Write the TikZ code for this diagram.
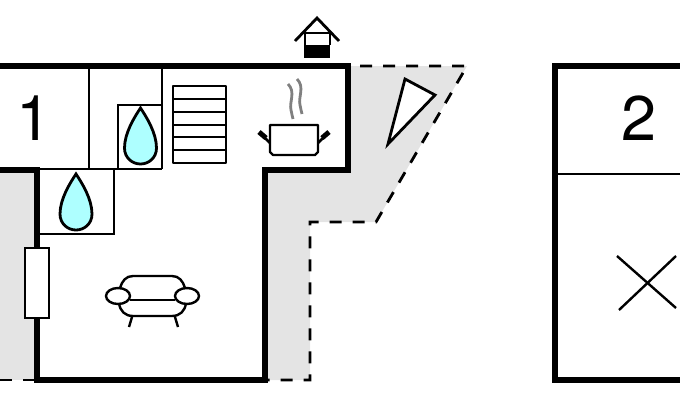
\documentclass[tikz,border=0pt]{standalone}
\usepackage{fontspec}
\setmainfont{TeX Gyre Heros}
\definecolor{terrace}{HTML}{E4E4E4}
\definecolor{water}{HTML}{AEFFFF}
\newcommand{\waterdrop}[2]{%
  \draw[thinwall,fill=water] (#1,#2) .. controls (#1-6,#2+9) and (#1-16,#2+25) .. (#1-16,#2+40)
    .. controls (#1-16,#2+50) and (#1-8,#2+56) .. (#1,#2+56)
    .. controls (#1+8,#2+56) and (#1+16,#2+50) .. (#1+16,#2+40)
    .. controls (#1+16,#2+25) and (#1+6,#2+9) .. (#1,#2) -- cycle;
}
\begin{document}
\begin{tikzpicture}[
    x=1pt,y=-1pt,
    wall/.style={line width=6.8pt,miter limit=10},
    thinwall/.style={line width=2.8pt},
    symbol/.style={line width=2.4pt,line join=round},
    limit/.style={line width=2.8pt,dash pattern=on 12pt off 11pt},
    number/.style={font=\fontsize{63}{63}\selectfont,inner sep=0pt}
  ]
  \useasboundingbox (0,0) rectangle (680,400);
  % Terraces
  \fill[terrace] (347,66) -- (467,66) -- (376,222) -- (310,222) -- (310,380) -- (265,380) -- (265,170) -- (347,170) -- cycle;
  \fill[terrace] (0,170) rectangle (37,380);
  \draw[limit] (360,66) -- (467,66) -- (376,222) -- (310,222) -- (310,380) -- (268,380);
  \draw[limit] (0,380) -- (37,380);

  % Inner walls
  \draw[thinwall] (89,66) -- (89,169);
  \draw[thinwall] (38,169) -- (162,169);
  \draw[thinwall] (162,66) -- (162,169);
  \draw[thinwall] (118,169) -- (118,105) -- (162,105);
  \draw[thinwall] (38,234) -- (114,234) -- (114,169);

  % Outer walls
  \draw[wall] (0,66) -- (348,66) -- (348,170) -- (265,170) -- (265,380) -- (37,380) -- (37,170) -- (0,170);
  \draw[wall] (680,66) -- (555,66) -- (555,380) -- (680,380);
  \draw[thinwall] (555,174) -- (680,174);

  % Room numbers
  \node[number] (room1) at (34,118) {1};
  \node[number] (room2) at (639,118) {2};

  % Drops
  \waterdrop{140.5}{108}
  \waterdrop{76}{174}

  % Stairs
  \draw[symbol] (173,86) rectangle (226,163);
  \foreach \y in {99,112,125,137,150} {
    \draw[symbol] (173,\y) -- (226,\y);
  }

  % Chimney
  \fill (304,45) rectangle (330,58);
  \draw[symbol] (305,45) -- (305,33) -- (330,33) -- (330,45);
  \draw[line width=2.8pt] (295,41) -- (317,18) -- (339,41);

  % Pot
  \draw[gray,line width=2.8pt] (288,84) .. controls (296,92) and (289,102) .. (291,110) .. controls (292,114) and (292,116) .. (293,119);
  \draw[gray,line width=2.8pt] (297,79) .. controls (305,87) and (298,97) .. (300,105) .. controls (301,109) and (301,111) .. (302,114);
  \draw[symbol] (270,125) -- (318,125) -- (318,152) -- (315,155) -- (273,155) -- (270,152) -- cycle;
  \draw[line width=2.6pt] (270,143) -- (262,135);
  \draw[line width=2.6pt] (318,143) -- (326,135);
  \draw[line width=5pt] (259,132) -- (266,138);
  \draw[line width=5pt] (329,132) -- (322,138);

  % Door mat
  \draw[line width=2.8pt,fill=white] (405,79) -- (435,95) -- (388,144) -- cycle;

  % Window
  \draw[thinwall,fill=white] (25,248) rectangle (49,318);

  % Sofa
  \draw[symbol] (120,288) .. controls (122,281) and (126,276) .. (133,276) -- (172,276) .. controls (179,276) and (183,281) .. (185,288);
  \draw[symbol] (119,303) .. controls (120,311) and (125,316) .. (133,316) -- (172,316) .. controls (180,316) and (185,311) .. (186,303);
  \draw[symbol] (130,300) -- (175,300);
  \draw[symbol] (118,296) ellipse (12 and 8);
  \draw[symbol] (187,296) ellipse (12 and 8);
  \draw[symbol] (132,317) -- (129,327);
  \draw[symbol] (175,317) -- (178,327);

  % Bed
  \draw[symbol] (617,256) -- (676,308);
  \draw[symbol] (619,310) -- (676,256);
\end{tikzpicture}
\end{document}
